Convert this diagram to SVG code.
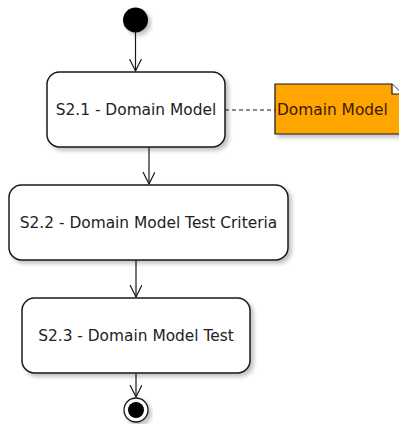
<svg xmlns="http://www.w3.org/2000/svg" width="399" height="424" viewBox="0 0 399 424">
<style>
.box{fill:#ffffff;stroke:#181818;stroke-width:1.5;filter:url(#sh)}
.t{font-family:"DejaVu Sans",sans-serif;font-size:15.4px;fill:#222222;text-anchor:middle}
.edge{stroke:#181818;stroke-width:1.2;fill:none}
</style>
<defs>
<filter id="sh" x="-10%" y="-10%" width="130%" height="140%">
<feGaussianBlur in="SourceAlpha" stdDeviation="2"/>
<feOffset dx="3" dy="3" result="b"/>
<feComponentTransfer><feFuncA type="linear" slope="0.25"/></feComponentTransfer>
<feMerge><feMergeNode/><feMergeNode in="SourceGraphic"/></feMerge>
</filter>
<marker id="ah" markerWidth="14" markerHeight="14" refX="12" refY="6" orient="auto" markerUnits="userSpaceOnUse">
<path d="M0,0 L12,6 L0,12" fill="none" stroke="#181818" stroke-width="1.2"/>
</marker>
</defs>
<g id="connectors">
<line class="edge" x1="135.5" y1="32" x2="135.5" y2="71" marker-end="url(#ah)"/>
<line class="edge" x1="149" y1="147" x2="149" y2="184" marker-end="url(#ah)"/>
<line class="edge" x1="136" y1="260" x2="136" y2="297" marker-end="url(#ah)"/>
<line class="edge" x1="136" y1="373" x2="136" y2="397" marker-end="url(#ah)"/>
<line class="edge" x1="225" y1="110" x2="275" y2="110" stroke-dasharray="4,3"/>
</g>
<g id="start">
<circle cx="135.5" cy="20" r="12.5" fill="#000" filter="url(#sh)"/>
</g>
<g id="s21">
<rect class="box" x="47" y="72" width="178" height="75" rx="12.5"/>
<text class="t" x="136" y="115">S2.1 - Domain Model</text>
</g>
<g id="s22">
<rect class="box" x="9" y="185" width="279" height="75" rx="12.5"/>
<text class="t" x="148.5" y="227.5">S2.2 - Domain Model Test Criteria</text>
</g>
<g id="s23">
<rect class="box" x="22" y="298" width="228" height="75" rx="12.5"/>
<text class="t" x="136" y="341">S2.3 - Domain Model Test</text>
</g>
<g id="note">
<path d="M275,84 L392,84 L402,94 L402,134 L275,134 Z" fill="#FFA500" stroke="#181818" stroke-width="1.2" filter="url(#sh)"/>
<path d="M392,84 L392,94 L402,94" fill="#ffffff" stroke="#181818" stroke-width="1.2"/>
<text x="277" y="115" style="font-family:'DejaVu Sans',sans-serif;font-size:15.4px;fill:#3a1a00">Domain Model</text>
</g>
<g id="end">
<circle cx="136" cy="410" r="12" fill="#ffffff" stroke="#181818" stroke-width="1.3" filter="url(#sh)"/>
<circle cx="136" cy="410" r="8" fill="#000"/>
</g>
</svg>
